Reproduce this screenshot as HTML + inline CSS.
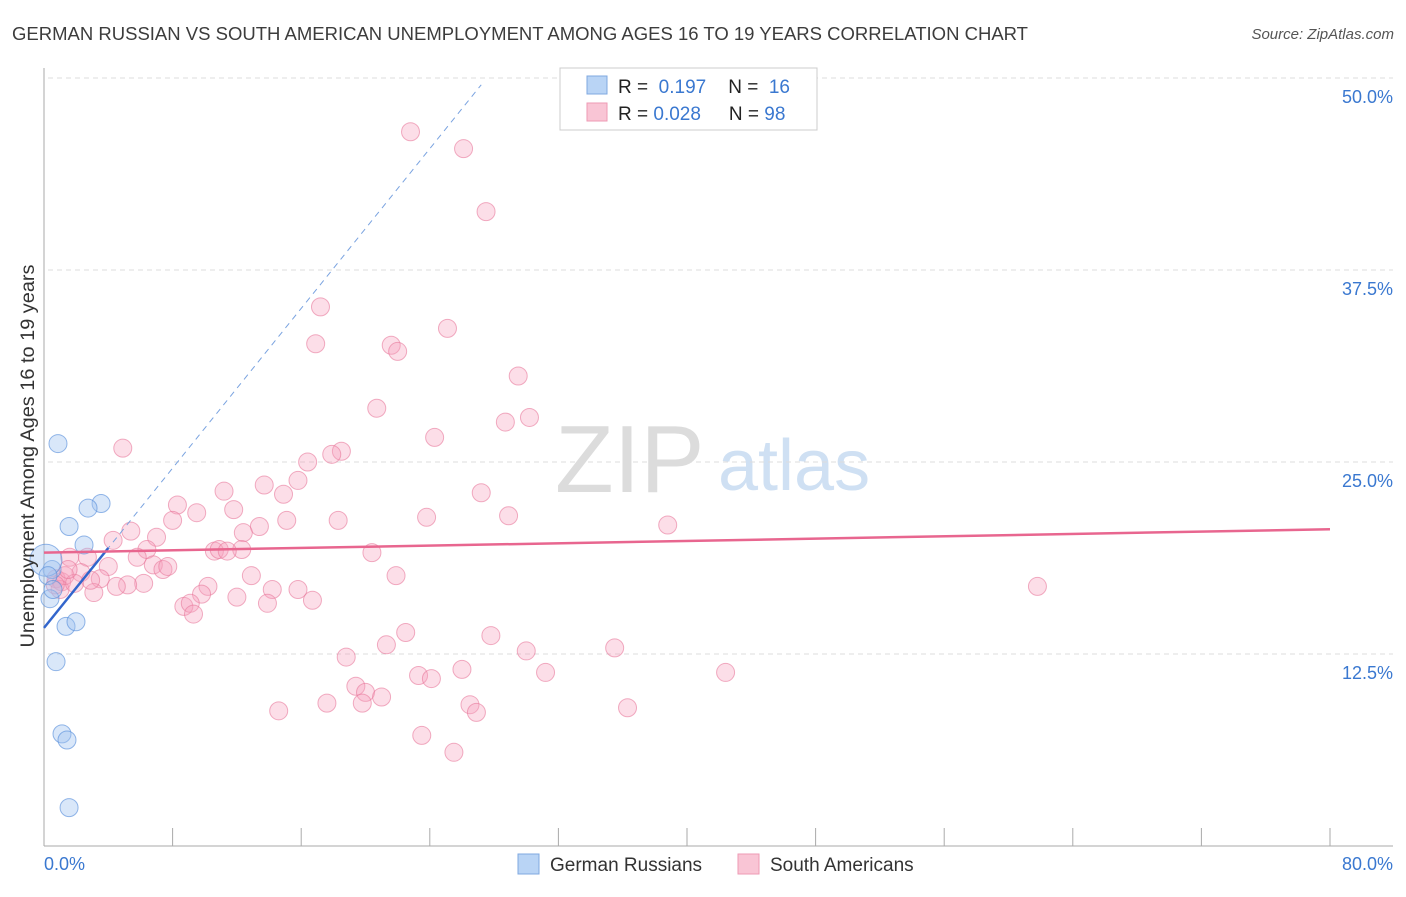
<!DOCTYPE html>
<html><head><meta charset="utf-8"><style>
body{margin:0;background:#fff;font-family:"Liberation Sans",sans-serif}
svg text{font-family:"Liberation Sans",sans-serif}
</style></head><body>
<svg id="c" width="1406" height="892" xmlns="http://www.w3.org/2000/svg">
<text x="12" y="40" font-size="18" fill="#3c3c3c" textLength="1016" lengthAdjust="spacingAndGlyphs">GERMAN RUSSIAN VS SOUTH AMERICAN UNEMPLOYMENT AMONG AGES 16 TO 19 YEARS CORRELATION CHART</text>
<text x="1394" y="39" font-size="15" fill="#555" text-anchor="end" font-style="italic">Source: ZipAtlas.com</text>
<g>
<text x="555" y="492" font-size="96" fill="#dcdcdc" font-family="Liberation Serif">ZIP</text>
<text x="718" y="490" font-size="72" fill="#cfe0f3">atlas</text>
</g>
<g id="grid"></g>
<g id="axes"></g>
<g id="pts"></g>
<g id="trends"></g>
<g>
<rect x="560" y="68" width="257" height="62" fill="#fff" stroke="#ccc"/>
<rect x="587" y="76" width="20" height="18" fill="#b9d4f5" stroke="#7fa8e0"/>
<rect x="587" y="103" width="20" height="18" fill="#f9c5d5" stroke="#ee9ab4"/>
<text x="618" y="93" font-size="19" fill="#222">R = <tspan fill="#3a78d0">&#160;0.197</tspan><tspan dx="22">N = </tspan><tspan fill="#3a78d0">&#160;16</tspan></text>
<text x="618" y="120" font-size="19" fill="#222">R = <tspan fill="#3a78d0">0.028</tspan><tspan dx="28">N = </tspan><tspan fill="#3a78d0">98</tspan></text>
</g>
<text transform="translate(34,456) rotate(-90)" font-size="19" fill="#333" text-anchor="middle" textLength="383" lengthAdjust="spacingAndGlyphs">Unemployment Among Ages 16 to 19 years</text>
<text x="44" y="870" font-size="18" fill="#3a78d0">0.0%</text>
<text x="1393" y="870" font-size="18" fill="#3a78d0" text-anchor="end">80.0%</text>
<g>
<rect x="518" y="854" width="21" height="20" fill="#b9d4f5" stroke="#7fa8e0"/>
<text x="550" y="871" font-size="19" fill="#333">German Russians</text>
<rect x="738" y="854" width="21" height="20" fill="#f9c5d5" stroke="#ee9ab4"/>
<text x="770" y="871" font-size="19" fill="#333">South Americans</text>
</g>
</svg>
<script>
const yTicks=[12.5,25,37.5,50];
const yTickLabels=["12.5%","25.0%","37.5%","50.0%"];
const xTicks=[0,8,16,24,32,40,48,56,64,72,80];
const blueX=[0.87,3.55,2.74,1.56,2.49,0.5,0.37,0.12,1.37,1.99,0.75,1.12,1.43,1.56,0.25,0.56];
const blueY=[26.2,22.3,22.0,20.8,19.6,18.0,16.1,18.6,14.3,14.6,12.0,7.3,6.9,2.5,17.6,16.7];
const pinkX=[22.8,26.1,27.5,17.2,25.1,16.9,21.6,22.0,29.5,20.7,28.7,30.2,24.3,4.9,18.5,17.9,16.4,13.7,15.8,11.2,14.9,27.2,8.3,9.5,11.8,28.9,23.8,15.1,18.3,8.0,13.4,38.8,5.4,12.4,7.0,4.3,6.4,10.6,10.9,12.3,11.4,20.4,5.8,2.7,1.6,4.0,6.8,7.4,7.7,2.3,12.9,21.9,0.75,3.5,1.1,6.2,5.2,4.5,10.2,14.2,15.8,3.1,61.8,9.8,12.0,8.7,9.1,13.9,16.7,9.3,22.5,27.8,21.3,35.5,30.0,18.8,26.0,31.2,42.4,23.3,24.1,19.4,20.0,21.0,17.6,19.8,26.5,26.9,36.3,14.6,23.5,25.5,1.0,1.3,1.9,0.7,1.5,2.9];
const pinkY=[46.5,45.4,41.3,35.1,33.7,32.7,32.6,32.2,30.6,28.5,27.6,27.9,26.6,25.9,25.7,25.5,25.0,23.5,23.8,23.1,22.9,23.0,22.2,21.7,21.9,21.5,21.4,21.2,21.2,21.2,20.8,20.9,20.5,20.4,20.1,19.9,19.3,19.2,19.3,19.3,19.2,19.1,18.8,18.8,18.8,18.2,18.3,18.0,18.2,17.8,17.6,17.6,17.4,17.4,17.2,17.1,17.0,16.9,16.9,16.7,16.7,16.5,16.9,16.4,16.2,15.6,15.8,15.8,16.0,15.1,13.9,13.7,13.1,12.9,12.7,12.3,11.5,11.3,11.3,11.1,10.9,10.4,10.0,9.7,9.3,9.3,9.2,8.7,9.0,8.8,7.2,6.1,16.7,17.6,17.1,17.0,18.0,17.3];
const blueTrend=[14.2,1.3];   // intercept, slope
const pinkTrend=[19.1,0.019];
const NS="http://www.w3.org/2000/svg";
const X=v=>44+v/80*1286, Y=v=>846-v/50*768;
function mk(tag,attrs,parent){const e=document.createElementNS(NS,tag);for(const k in attrs)e.setAttribute(k,attrs[k]);document.getElementById(parent).appendChild(e);return e;}
yTicks.forEach((t,i)=>{
 const l=mk('line',{x1:48,x2:1393,y1:Y(t),y2:Y(t),stroke:'#dcdcdc','stroke-dasharray':'5,4'},'grid');
 
 
 const tx=mk('text',{x:1393,y:Y(t)+25,'font-size':18,fill:'#3a78d0','text-anchor':'end'},'grid');
 tx.textContent=yTickLabels[i];
 
 
});
let a=mk('line',{x1:44,x2:44,y1:68,y2:846,stroke:'#aaa'},'axes');


a=mk('line',{x1:44,x2:1393,y1:846,y2:846,stroke:'#aaa'},'axes');


xTicks.forEach(t=>{const l=mk('line',{x1:X(t),x2:X(t),y1:828,y2:846,stroke:'#aaa'},'axes');
 
 });
pinkX.forEach((x,i)=>{const c=mk('circle',{cx:X(x),cy:Y(pinkY[i]),r:9,fill:'rgba(246,160,188,0.35)',stroke:'rgba(232,120,155,0.6)'},'pts');
 
 });
blueX.forEach((x,i)=>{const c=mk('circle',{cx:X(x),cy:Y(blueY[i]),r:i==7?16:9,fill:'rgba(160,195,240,0.4)',stroke:'rgba(90,145,220,0.65)'},'pts');
 
 });
let t=mk('line',{x1:X(0),y1:Y(blueTrend[0]),x2:X(27.2),y2:Y(blueTrend[0]+blueTrend[1]*27.2),stroke:'#7aa3e0','stroke-dasharray':'6,5','stroke-width':1},'trends');


t=mk('line',{x1:X(0),y1:Y(blueTrend[0]),x2:X(4),y2:Y(blueTrend[0]+blueTrend[1]*4),stroke:'#3366cc','stroke-width':2.5},'trends');


t=mk('line',{x1:X(0),y1:Y(pinkTrend[0]),x2:X(80),y2:Y(pinkTrend[0]+pinkTrend[1]*80),stroke:'#e8668f','stroke-width':2.5},'trends');


</script>
</body></html>
